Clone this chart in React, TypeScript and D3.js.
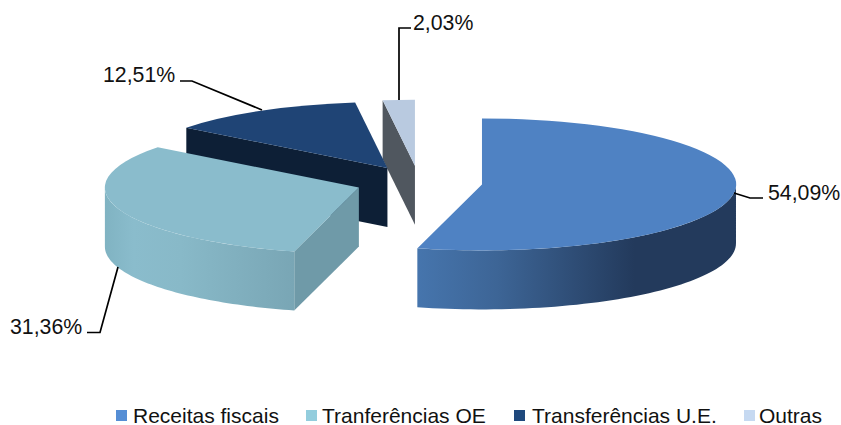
import React from "react";
import * as d3 from "d3";

// Budget revenue shares, in percent
const categories = ["Receitas fiscais", "Tranferências OE", "Transferências U.E.", "Outras"];
const shares = [54.09, 31.36, 12.51, 2.03];
const shareLabels = ["54,09%", "31,36%", "12,51%", "2,03%"];

const topColors = ["#4f82c3", "#8abccc", "#1f4475", "#b9cae0"];
const wallColors = ["#233a5c", "#6f9aa8", "#0d1f36", "#50575f"];
const legendColors = ["#558ed5", "#93cddd", "#1f497d", "#c6d9f1"];
const legendX = [116, 306, 514, 744];
const legendTextX = [133, 322, 532, 759];

// Leader lines run from the slice rim to the label
const leaders = [
  [[734, 193], [750, 198], [763, 198]],
  [[118, 267], [100, 332.5], [87, 332.5]],
  [[262, 110], [192, 81], [180, 81]],
  [[399, 100], [399, 28], [411, 28]],
];
const labelPos = [[768, 200], [10, 334], [103, 82], [413, 30]];

const W = 841, H = 425;
const cx = 419, cy = 182.3;
const rx = 254, ry = 66;
const depth = 59;
const explode = 0.25;

const pie = d3.pie<number>().sort(null).value((d) => d);
const slices = pie(shares);
const unitArc = d3.arc<d3.PieArcDatum<number>>().innerRadius(0).outerRadius(1);

// Angle 0 is 12 o'clock, growing clockwise
const onEllipse = (c: number[], a: number): [number, number] => [
  c[0] + rx * Math.sin(a),
  c[1] - ry * Math.cos(a),
];

const centers = slices.map((s) => {
  const mid = (s.startAngle + s.endAngle) / 2;
  return [cx + explode * rx * Math.sin(mid), cy - explode * ry * Math.cos(mid)];
});

const polygon = (pts: number[][]) => "M" + pts.map((p) => p.join(",")).join("L") + "Z";

// Outer wall between two angles, on the front half of the ellipse only
function rimPath(c: number[], a0: number, a1: number) {
  const steps = d3.range(0, 61).map((i) => a0 + ((a1 - a0) * i) / 60);
  const top = steps.map((a) => onEllipse(c, a));
  const bottom = steps.slice().reverse().map((a) => {
    const p = onEllipse(c, a);
    return [p[0], p[1] + depth];
  });
  return polygon([...top, ...bottom]);
}

// Flat wall hanging from the radial edge at the slice's start angle
function cutWall(c: number[], a: number) {
  const p = onEllipse(c, a);
  return polygon([c, p, [p[0], p[1] + depth], [c[0], c[1] + depth]]);
}

const HALF = Math.PI / 2;

export default function App() {
  const font = "'Liberation Sans', Arial, sans-serif";
  // Painted back to front so nearer slices cover the ones behind
  const order = [3, 2, 1, 0];
  return (
    <svg
      width={W}
      height={H}
      viewBox={`0 0 ${W} ${H}`}
      style={{ position: "absolute", left: 0, top: 0, background: "#fff" }}
    >
      <defs>
        <linearGradient id="rimBlue" gradientUnits="userSpaceOnUse" x1={417} x2={737} y1={0} y2={0}>
          <stop offset="0" stopColor="#4675ad" />
          <stop offset="0.25" stopColor="#3d6596" />
          <stop offset="0.68" stopColor="#233a5c" />
          <stop offset="1" stopColor="#233a5c" />
        </linearGradient>
        <linearGradient id="rimTeal" gradientUnits="userSpaceOnUse" x1={105} x2={294} y1={0} y2={0}>
          <stop offset="0" stopColor="#80b3c2" />
          <stop offset="0.15" stopColor="#8abccc" />
          <stop offset="0.4" stopColor="#88b9c8" />
          <stop offset="1" stopColor="#79a6b5" />
        </linearGradient>
      </defs>

      {order.map((i) => {
        const s = slices[i];
        const c = centers[i];
        const hasCut = i > 0;
        const rimFrom = Math.max(s.startAngle, HALF);
        const rimTo = Math.min(s.endAngle, 3 * HALF);
        return (
          <g key={categories[i]}>
            {hasCut && <path d={cutWall(c, s.startAngle)} fill={wallColors[i]} />}
            {rimTo > rimFrom && (
              <path
                d={rimPath(c, rimFrom, rimTo)}
                fill={i === 0 ? "url(#rimBlue)" : "url(#rimTeal)"}
              />
            )}
            <path
              transform={`translate(${c[0]},${c[1]}) scale(${rx},${ry})`}
              d={unitArc(s) ?? ""}
              fill={topColors[i]}
            />
          </g>
        );
      })}

      {leaders.map((pts, i) => (
        <path
          key={shareLabels[i]}
          d={d3.line()(pts as [number, number][]) ?? ""}
          fill="none"
          stroke="#000"
          strokeWidth={1.7}
        />
      ))}
      {shareLabels.map((t, i) => (
        <text key={t} x={labelPos[i][0]} y={labelPos[i][1]} fontFamily={font} fontSize={21.3} fill="#111">
          {t}
        </text>
      ))}

      {categories.map((t, i) => (
        <g key={t}>
          <rect x={legendX[i]} y={410} width={11} height={11} fill={legendColors[i]} />
          <text x={legendTextX[i]} y={423} fontFamily={font} fontSize={21} fill="#111">
            {t}
          </text>
        </g>
      ))}
    </svg>
  );
}
